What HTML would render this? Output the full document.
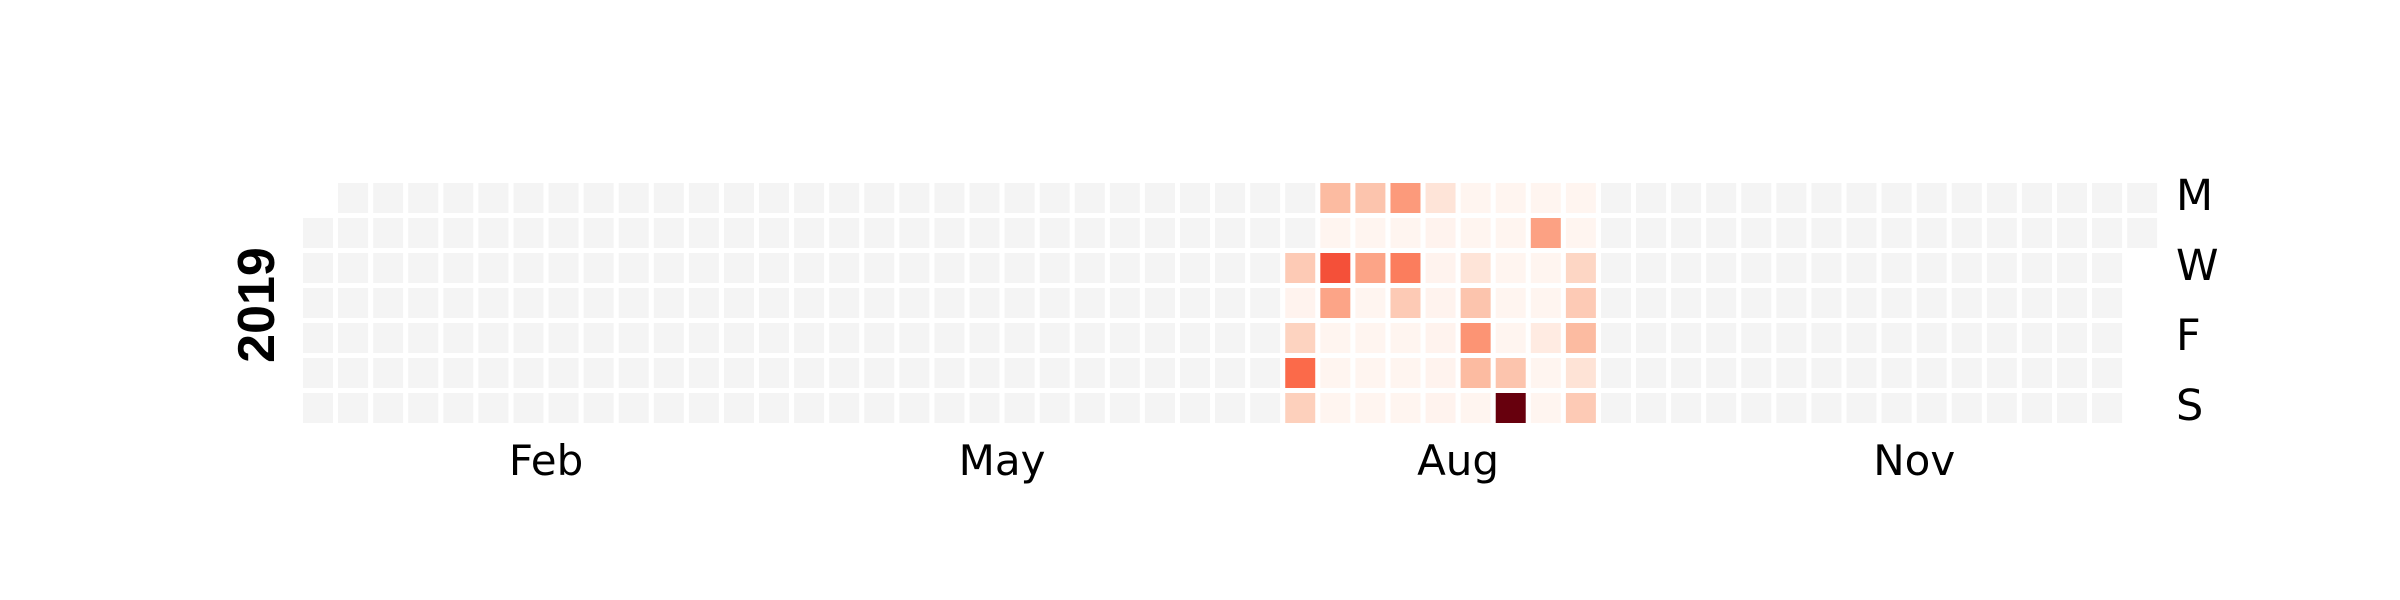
<!DOCTYPE html>
<html><head><meta charset="utf-8"><style>
html,body{margin:0;padding:0;background:#fff;}
svg{display:block;}
</style></head><body>
<svg id="chart" width="2400" height="600" viewBox="0 0 2400 600" xmlns="http://www.w3.org/2000/svg">
<rect width="2400" height="600" fill="#fff"/>
<g id="cells"></g>
<g id="months"></g>
<g font-family="DejaVu Sans, sans-serif" font-size="43" fill="#000">
<text x="2176" y="210">M</text>
<text x="2176" y="280">W</text>
<text x="2176" y="350">F</text>
<text x="2176" y="420">S</text>
</g>
<text transform="translate(274,305) rotate(-90)" text-anchor="middle" font-family="Liberation Sans, sans-serif" font-weight="bold" font-size="52" fill="#000">2019</text>
</svg>
<script>
// data: first day with data is 2019-07-17 (day-of-year index 197); values per consecutive day
const startDay = 197;
const values = [
 20, 1, 17, 50, 18,            // Jul 17-21 (Wed-Sun)
 25, 0, 57, 32, 0, 0, 0,       // Jul 22-28
 22, 0, 32, 0, 0, 0, 0,        // Jul 29-Aug 4
 35, 0, 44, 20, 0, 0, 0,       // Aug 5-11
 10, 1, 1, 1, 1, 1, 1,         // Aug 12-18
 0, 0, 10, 22, 37, 25, 0,      // Aug 19-25
 0, 0, 0, 0, 0, 22, 100,       // Aug 26-Sep 1
 0, 33, 0, 0, 6, 0, 0,         // Sep 2-8
 0, 0, 16, 20, 25, 11, 20      // Sep 9-15
];
const monthLabels = ["Feb","May","Aug","Nov"];
const monthTickDays = [45, 134, 226, 318]; // day-of-year of the 15th

const X0 = 303, Y0 = 183, PITCH = 35.08, ROWP = 35, CELL = 30;
const firstWeekday = 1; // Jan 1 2019 = Tuesday (Mon=0)
const nDays = 365;
const colOf = d => Math.floor((d + firstWeekday) / 7);
const rowOf = d => (d + firstWeekday) % 7;
const xOf = c => X0 + c * PITCH;
const yOf = r => Y0 + r * ROWP;

const stops = ["#fff5f0","#fee0d2","#fcbba1","#fc9272","#fb6a4a","#ef3b2c","#cb181d","#a50f15","#67000d"];
function hex(h){return [1,3,5].map(i=>parseInt(h.substr(i,2),16));}
function reds(t){
  t=Math.max(0,Math.min(1,t));
  const p=t*(stops.length-1), i=Math.min(stops.length-2,Math.floor(p)), f=p-i;
  const a=hex(stops[i]), b=hex(stops[i+1]);
  return "rgb("+a.map((v,k)=>Math.round(v+(b[k]-v)*f)).join(",")+")";
}
const vmin = Math.min(...values), vmax = Math.max(...values);
const NS = "http://www.w3.org/2000/svg";
const g = document.getElementById("cells");
for (let d = 0; d < nDays; d++) {
  const r = document.createElementNS(NS, "rect");
  r.setAttribute("x", xOf(colOf(d)).toFixed(2));
  r.setAttribute("y", yOf(rowOf(d)));
  r.setAttribute("width", CELL);
  r.setAttribute("height", CELL);
  const i = d - startDay;
  const has = i >= 0 && i < values.length;
  r.setAttribute("fill", has ? reds((values[i] - vmin) / (vmax - vmin || 1)) : "#f4f4f4");
  
  
  g.appendChild(r);
}
const mg = document.getElementById("months");
monthLabels.forEach((m, k) => {
  const t = document.createElementNS(NS, "text");
  t.setAttribute("x", (xOf(colOf(monthTickDays[k]) + 1) - 2.5).toFixed(1));
  t.setAttribute("y", 475);
  t.setAttribute("text-anchor", "middle");
  t.setAttribute("font-family", "DejaVu Sans, sans-serif");
  t.setAttribute("font-size", "42");
  t.textContent = m;
  
  
  mg.appendChild(t);
});
</script>
</body></html>
